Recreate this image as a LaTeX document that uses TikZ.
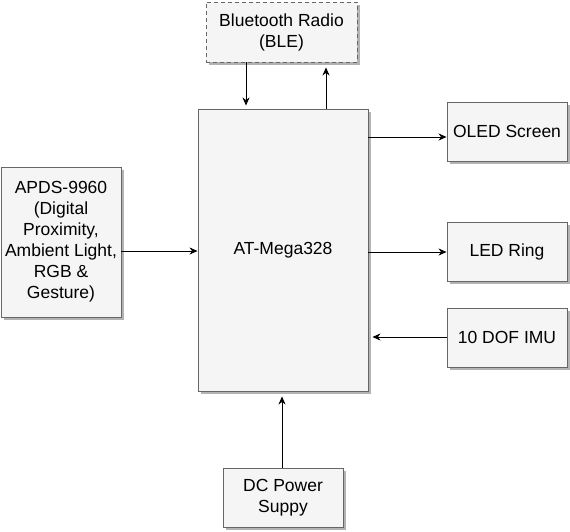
\documentclass[tikz,border=0pt]{standalone}
\usepackage{fontspec}
\setmainfont{Liberation Sans}
\usetikzlibrary{arrows.meta,shadows}
\definecolor{boxfill}{HTML}{F5F5F5}
\definecolor{boxline}{HTML}{666666}
\definecolor{shadowc}{HTML}{B3B3B3}
\begin{document}
\begin{tikzpicture}[x=1pt,y=-1pt,
  blk/.style={draw=boxline,fill=boxfill,line width=0.9pt,inner sep=0pt,align=center,
    font=\fontsize{17.5}{21}\selectfont,
    general shadow={fill=shadowc,shadow xshift=3pt,shadow yshift=-3pt}},
  arr/.style={draw=black,line width=0.9pt,-{Stealth[length=8pt,width=7pt,inset=2.5pt]}}]
\useasboundingbox (0,0) rectangle (570,531);
\node[blk,dashed,dash pattern=on 4pt off 3pt,minimum width=151pt,minimum height=60pt] (ble) at (281.5,32) {Bluetooth Radio\\(BLE)};
\node[blk,minimum width=170pt,minimum height=282pt] (main) at (283,250) {AT-Mega328};
\node[blk,minimum width=120pt,minimum height=150pt] (apds) at (61,242) {APDS-9960\\(Digital\\Proximity,\\Ambient Light,\\RGB \&\\Gesture)};
\node[blk,minimum width=120pt,minimum height=59pt] (oled) at (507,131.5) {OLED Screen};
\node[blk,minimum width=120pt,minimum height=59pt] (led) at (507,251.5) {LED Ring};
\node[blk,minimum width=120pt,minimum height=59pt] (imu) at (507,337.5) {10 DOF IMU};
\node[blk,minimum width=120pt,minimum height=59pt] (dc) at (283,497.5) {DC Power\\Suppy};
\coordinate (xa) at (246,0);
\coordinate (xb) at (326,0);
\coordinate (xc) at (282,0);
\coordinate (ya) at (0,251);
\coordinate (yb) at (0,137);
\coordinate (yc) at (0,252);
\coordinate (yd) at (0,337);
\draw[arr,shorten >=3pt] (ble.south -| xa) -- (main.north -| xa);
\draw[arr,shorten >=5pt] (main.north -| xb) -- (ble.south -| xb);
\draw[arr] (apds.east |- ya) -- (main.west |- ya);
\draw[arr] (main.east |- yb) -- (oled.west |- yb);
\draw[arr] (main.east |- yc) -- (led.west |- yc);
\draw[arr,shorten >=4pt] (imu.west |- yd) -- (main.east |- yd);
\draw[arr,shorten >=5pt] (dc.north -| xc) -- (main.south -| xc);
\end{tikzpicture}
\end{document}
